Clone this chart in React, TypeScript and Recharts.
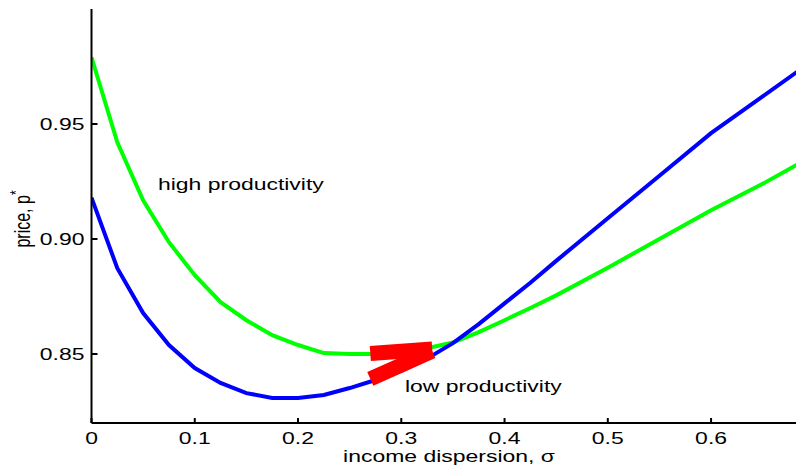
import React from "react";
import { LineChart, Line, XAxis, YAxis, ReferenceDot } from "recharts";

// income dispersion grid (sigma)
const sigmaFine = [0, 0.025, 0.05, 0.075, 0.1, 0.125, 0.15, 0.175, 0.2, 0.225, 0.25, 0.275, 0.3, 0.325, 0.35, 0.375, 0.4, 0.425, 0.45, 0.5, 0.55, 0.6, 0.65, 0.7];

// equilibrium price p* for each productivity level
const lowProductivity = [0.918, 0.8873, 0.8678, 0.8539, 0.8439, 0.8374, 0.833, 0.8309, 0.8309, 0.8322, 0.8352, 0.8387, 0.8426, 0.848, 0.8547, 0.863, 0.872, 0.881, 0.8905, 0.909, 0.9275, 0.946, 0.962, 0.978];
const highProductivity = [0.979, 0.942, 0.9168, 0.8986, 0.8843, 0.8725, 0.8647, 0.8582, 0.8539, 0.8504, 0.85, 0.85, 0.851, 0.8525, 0.855, 0.8595, 0.8647, 0.87, 0.8755, 0.8875, 0.9, 0.9125, 0.924, 0.9365];

// red movement markers between the two equilibria
const upperArrowX = [0.27, 0.33];
const upperArrowY = [0.8502, 0.8522];
const lowerArrowX = [0.27, 0.33];
const lowerArrowY = [0.8392, 0.8512];

const xTicks = [0, 0.1, 0.2, 0.3, 0.4, 0.5, 0.6];
const yTicks = [0.85, 0.9, 0.95];

const lowData = sigmaFine.map((s, i) => ({ s, p: lowProductivity[i] }));
const highData = sigmaFine.map((s, i) => ({ s, p: highProductivity[i] }));
const upperArrow = upperArrowX.map((s, i) => ({ s, p: upperArrowY[i] }));
const lowerArrow = lowerArrowX.map((s, i) => ({ s, p: lowerArrowY[i] }));

const FONT = "'Liberation Sans', Arial, Helvetica, sans-serif";
const SX = 1.35;
const FS = 17;

const fmtX = (v: number) => (v === 0 ? "0" : v.toFixed(1));

const BottomTick = (props: any) => {
  const { x, y, payload } = props;
  return (
    <g>
      <line x1={x} x2={x} y1={y} y2={y - 5} stroke="#000" strokeWidth={2} />
      <text transform={`translate(${x},${y + 21}) scale(${SX},1)`} textAnchor="middle" fontFamily={FONT} fontSize={FS} fill="#000">
        {fmtX(payload.value)}
      </text>
    </g>
  );
};

const TopTick = (props: any) => {
  const { x, y } = props;
  return <line x1={x} x2={x} y1={y} y2={y + 5} stroke="#000" strokeWidth={2} />;
};

const LeftTick = (props: any) => {
  const { x, y, payload } = props;
  return (
    <g>
      <line x1={x} x2={x + 6} y1={y} y2={y} stroke="#000" strokeWidth={2} />
      <text transform={`translate(${x - 7},${y + 6}) scale(${SX},1)`} textAnchor="end" fontFamily={FONT} fontSize={FS} fill="#000">
        {payload.value.toFixed(2)}
      </text>
    </g>
  );
};

const annotation = (label: string) => (props: any) => {
  const { cx, cy } = props;
  return (
    <text transform={`translate(${cx},${cy}) scale(${SX},1)`} textAnchor="start" fontFamily={FONT} fontSize={FS} fill="#000">
      {label}
    </text>
  );
};

export default function App() {
  return (
    <div style={{ position: "relative", width: 796, height: 459 }}>
      <LineChart width={796} height={459} margin={{ top: 1, right: 0, bottom: 0, left: 0 }}>
        <XAxis
          xAxisId="b"
          type="number"
          dataKey="s"
          domain={[0, 0.69]}
          allowDataOverflow
          ticks={xTicks}
          tick={<BottomTick />}
          tickLine={false}
          tickSize={0}
          tickMargin={0}
          height={44}
          axisLine={{ stroke: "#000", strokeWidth: 2 }}
        />
        <XAxis
          xAxisId="t"
          orientation="top"
          type="number"
          dataKey="s"
          domain={[0, 0.69]}
          allowDataOverflow
          ticks={xTicks}
          tick={<TopTick />}
          tickLine={false}
          tickSize={0}
          tickMargin={0}
          height={0}
          axisLine={{ stroke: "#000", strokeWidth: 2 }}
        />
        <YAxis
          type="number"
          domain={[0.82, 1.0]}
          allowDataOverflow
          ticks={yTicks}
          tick={<LeftTick />}
          tickLine={false}
          tickSize={0}
          tickMargin={0}
          width={83.5}
          axisLine={{ stroke: "#000", strokeWidth: 2 }}
        />
        <Line xAxisId="b" data={highData} dataKey="p" type="linear" stroke="#00ff00" strokeWidth={4} dot={false} isAnimationActive={false} />
        <Line xAxisId="b" data={lowData} dataKey="p" type="linear" stroke="#0000ff" strokeWidth={4} dot={false} isAnimationActive={false} />
        <Line xAxisId="b" data={upperArrow} dataKey="p" type="linear" stroke="#ff0000" strokeWidth={15} strokeLinecap="butt" dot={false} isAnimationActive={false} />
        <Line xAxisId="b" data={lowerArrow} dataKey="p" type="linear" stroke="#ff0000" strokeWidth={15} strokeLinecap="butt" dot={false} isAnimationActive={false} />
        <ReferenceDot xAxisId="b" x={0.0644} y={0.9212} r={0} shape={annotation("high productivity")} />
        <ReferenceDot xAxisId="b" x={0.3035} y={0.8335} r={0} shape={annotation("low productivity")} />
      </LineChart>
      <svg width={796} height={459} style={{ position: "absolute", left: 0, top: 0, pointerEvents: "none" }}>
        <text transform={`translate(441,454) scale(${SX},1)`} textAnchor="middle" fontFamily={FONT} fontSize={FS} fill="#000">
          income dispersion, σ
        </text>
        <text transform={`translate(22,211) scale(${SX},1) rotate(-90)`} textAnchor="middle" fontFamily={FONT} fontSize={16} fill="#000">
          price, p<tspan dy={-6} fontSize={12}>*</tspan>
        </text>
      </svg>
    </div>
  );
}
